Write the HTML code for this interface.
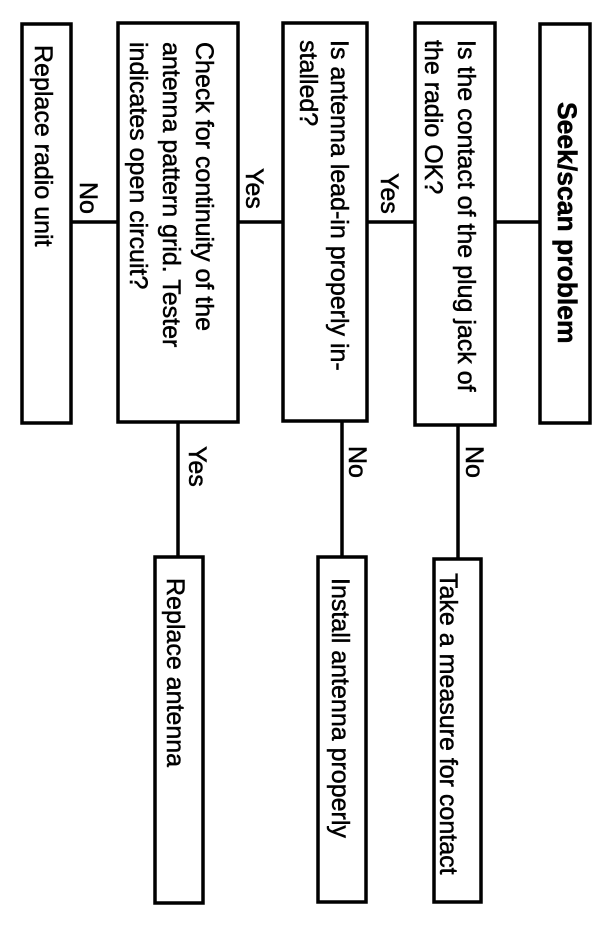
<!DOCTYPE html>
<html><head><meta charset="utf-8"><style>
html,body{margin:0;padding:0;background:#fff;}
svg{display:block;}
text{font-family:"Liberation Sans",Arial,sans-serif;font-size:25px;fill:#000;stroke:#000;stroke-width:0.5;}
</style></head><body>
<svg width="602" height="928" viewBox="0 0 602 928" xmlns="http://www.w3.org/2000/svg">
<g fill="none" stroke="#000" stroke-width="3.5">
<rect x="540" y="24" width="50" height="399"/>
<rect x="415" y="23" width="80" height="402"/>
<rect x="283" y="23" width="84" height="398"/>
<rect x="118" y="23" width="120" height="399"/>
<rect x="22" y="24" width="49" height="399"/>
<rect x="434" y="559" width="47" height="343"/>
<rect x="318" y="557" width="48" height="345"/>
<rect x="155" y="557" width="48" height="346"/>
<line x1="495" y1="222" x2="540" y2="222"/>
<line x1="367" y1="222" x2="415" y2="222"/>
<line x1="238" y1="222" x2="283" y2="222"/>
<line x1="71" y1="222" x2="118" y2="222"/>
<line x1="458" y1="425" x2="458" y2="559"/>
<line x1="342" y1="421" x2="342" y2="557"/>
<line x1="178" y1="422" x2="178" y2="557"/>
</g>
<text transform="translate(558,102) rotate(90)" font-weight="bold" style="font-size:26.5px">Seek/scan problem</text>
<text transform="translate(458,40) rotate(90)">Is the contact of the plug jack of</text>
<text transform="translate(425,40) rotate(90)">the radio OK?</text>
<text transform="translate(331,40) rotate(90)">Is antenna lead-in properly in-</text>
<text transform="translate(300,40) rotate(90)">stalled?</text>
<text transform="translate(196,42) rotate(90)">Check for continuity of the</text>
<text transform="translate(163,42) rotate(90)">antenna pattern grid. Tester</text>
<text transform="translate(130,42) rotate(90)">indicates open circuit?</text>
<text transform="translate(35,45) rotate(90)">Replace radio unit</text>
<text transform="translate(440,573) rotate(90)">Take a measure for contact</text>
<text transform="translate(332,578) rotate(90)">Install antenna properly</text>
<text transform="translate(167,578) rotate(90)">Replace antenna</text>
<text transform="translate(80,182) rotate(90)">No</text>
<text transform="translate(246,168) rotate(90)">Yes</text>
<text transform="translate(381,173) rotate(90)">Yes</text>
<text transform="translate(189,446) rotate(90)">Yes</text>
<text transform="translate(349,446) rotate(90)">No</text>
<text transform="translate(466,446) rotate(90)">No</text>
</svg>
</body></html>
